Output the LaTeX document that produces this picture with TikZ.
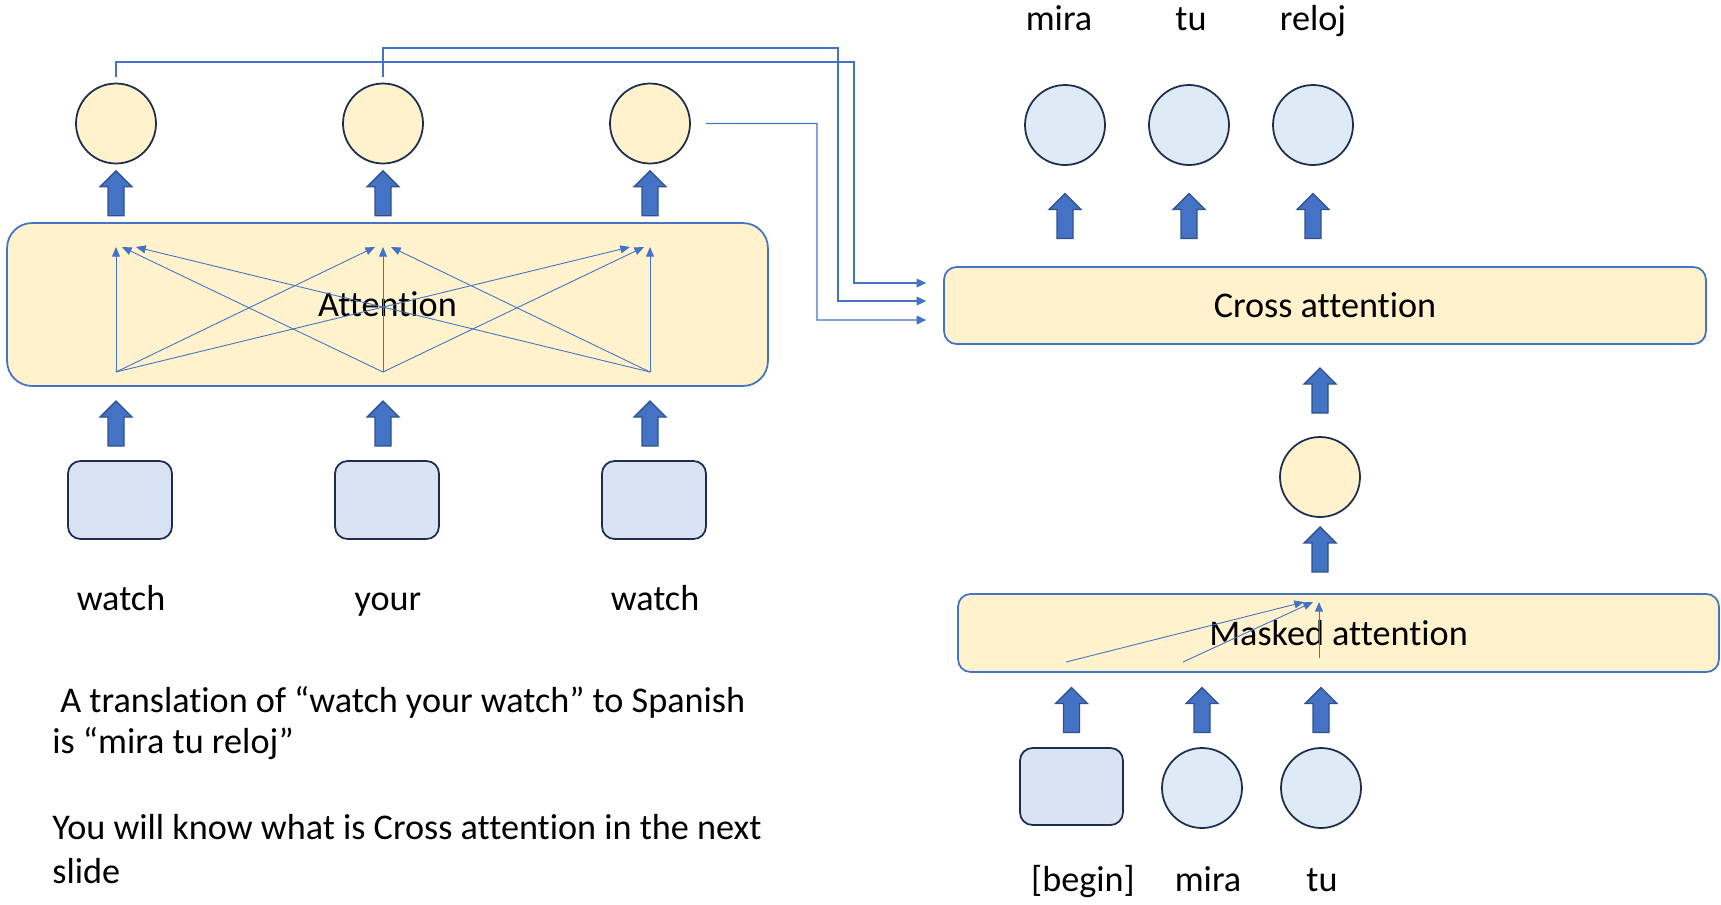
\documentclass[tikz,border=0pt]{standalone}
\usepackage{fontspec}
\setmainfont{Carlito}[Ligatures=NoCommon]
\usetikzlibrary{arrows.meta,calc,positioning}

\definecolor{paleyellow}{HTML}{FFF2CC}
\definecolor{paleblue}{HTML}{DEEBF7}
\definecolor{tokblue}{HTML}{DAE3F3}
\definecolor{accent}{HTML}{4472C4}
\definecolor{arrowedge}{HTML}{2F528F}
\definecolor{rim}{HTML}{1C2D4F}

\tikzset{
  enc/.style={circle,draw=rim,line width=1pt,fill=paleyellow,minimum size=1.6cm,inner sep=0pt},
  dec/.style={enc,fill=paleblue},
  tok/.style={rectangle,rounded corners=0.25cm,draw=rim,line width=1pt,fill=tokblue,
    minimum width=2.08cm,minimum height=1.56cm},
  layer/.style={rectangle,draw=accent,line width=1pt,fill=paleyellow,inner sep=0pt},
  attn/.style={accent,line width=0.5pt,-{Triangle[length=5.5pt,width=4.5pt]}},
  link/.style={accent,line width=0.7pt,-{Triangle[length=5.5pt,width=5pt]}},
  note/.style={anchor=base west,inner xsep=0pt},
  % fat up arrow, centred on the point where it is placed
  blockup/.pic={\draw[fill=accent,draw=arrowedge,line width=0.8pt]
    (0,-22.5)--(16,-6.5)--(8,-6.5)--(8,22.5)--(-8,22.5)--(-8,-6.5)--(-16,-6.5)--cycle;}
}

\begin{document}
\begin{tikzpicture}[x=0.02cm,y=-0.02cm,font=\fontsize{20.6}{24}\selectfont]
  \useasboundingbox (0,0) rectangle (1721,904);

  % encoder
  \node[layer,rounded corners=0.5cm,minimum width=15.22cm,minimum height=3.26cm] (att) at (387.5,304.5) {Attention};
  \foreach \i/\x/\w in {1/116/watch,2/383/your,3/650/watch}{
    \node[enc] (h\i) at (\x,123.5) {};
    \node[tok] (x\i) at (\x+4,500) {};
    \node[anchor=base] (w\i) at ($(x\i.south)+(1,71)$) {\w};
    \coordinate (b\i) at (\x,372);
    \coordinate (t\i) at (\x,247);
    \pic at ($(h\i.south)!.5!(h\i|-att.north)$) {blockup};
    \pic at ($(h\i|-att.south)!.5!(h\i|-x\i.north)$) {blockup};
  }
  \foreach \s/\t/\dx in {b1/t1/0,b2/t1/6,b3/t1/20,b1/t2/-8,b2/t2/0,b3/t2/8,b1/t3/-20,b2/t3/-6,b3/t3/0}
    \draw[attn] (\s) -- ($(\t)+(\dx,0)$);

  % decoder
  \node[layer,rounded corners=0.25cm,minimum width=15.24cm,minimum height=1.54cm] (cross) at (1325,305.5) {Cross attention};
  \node[layer,rounded corners=0.25cm,minimum width=15.22cm,minimum height=1.56cm] (mask) at (1338.5,633) {Masked attention};
  \node[enc] (z) at (1320,477) {};
  \pic at ($(z|-cross.south)!.5!(z.north)$) {blockup};
  \pic at ($(z.south)!.42!(z|-mask.north)$) {blockup};

  \foreach \i/\x/\w/\dx in {1/1065/mira/-6,2/1189/tu/2,3/1313/reloj/0}{
    \node[dec] (y\i) at (\x,125) {};
    \node[anchor=base] (o\i) at ($(y\i.north)+(\dx,-54)$) {\w};
    \pic at ($(y\i.south)!.5!(y\i|-cross.north)$) {blockup};
  }

  \node[tok,minimum width=2.06cm,minimum height=1.54cm] (s1) at (1071.5,786.5) {};
  \node[dec] (s2) at (1202,788) {};
  \node[dec] (s3) at (1321,788) {};
  \node[anchor=base] (r1) at (1083,891) {[begin]};
  \node[anchor=base] (r2) at (1208,891) {mira};
  \node[anchor=base] (r3) at (1322,891) {tu};
  \foreach \i in {1,2,3}
    \pic at ($(s\i|-mask.south)!.5!(s\i.north)$) {blockup};

  \coordinate (m1) at (1066,662);
  \coordinate (m2) at (1183,662);
  \coordinate (m3) at (1319,658);
  \coordinate (mt) at (1319,602);
  \draw[attn] (m1) -- ($(mt)+(-15,0)$);
  \draw[attn] (m2) -- ($(mt)+(-6,0)$);
  \draw[attn] (m3) -- (mt);

  % encoder outputs into cross attention
  \coordinate (in1) at ($(cross.west)+(-17,-22.5)$);
  \coordinate (in2) at ($(cross.west)+(-17,-4.5)$);
  \coordinate (in3) at ($(cross.west)+(-17,14.5)$);
  \draw[link] ($(h1.north)+(0,-6)$) |- (854,62) |- (in1);
  \draw[link] ($(h2.north)+(0,-6)$) |- (838,48) |- (in2);
  \draw[link] ($(h3.east)+(15,0)$) -| (817,320) -- (in3);

  % note
  \node[note] (n1) at (60,712) {A translation of “watch your watch” to Spanish};
  \node[note] (n2) at (52,753) {is “mira tu reloj”};
  \node[note] (n3) at (52,839) {You will know what is Cross attention in the next};
  \node[note] (n4) at (52,883) {slide};
\end{tikzpicture}
\end{document}
